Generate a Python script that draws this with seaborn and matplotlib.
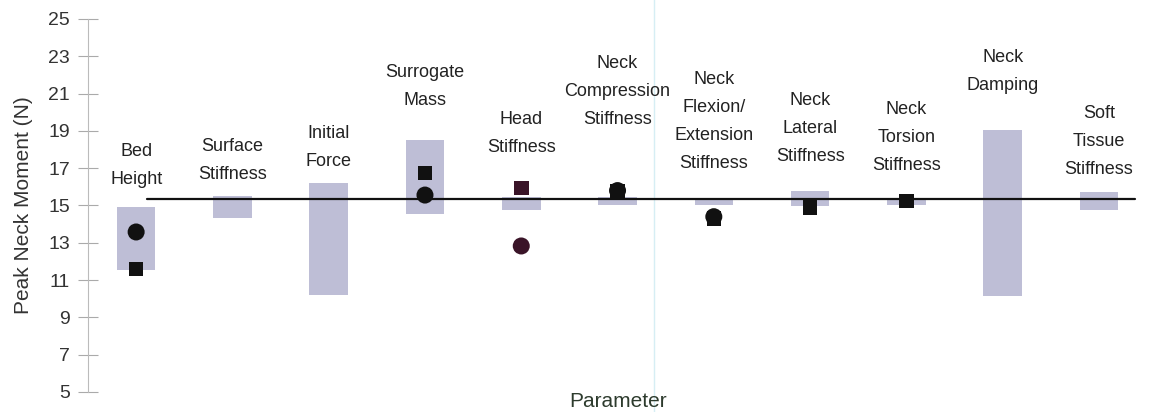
import matplotlib
matplotlib.use("Agg")
import matplotlib.pyplot as plt
import seaborn as sns
import numpy as np
import pandas as pd

# ---- data ----
parameters = ["Bed\nHeight", "Surface\nStiffness", "Initial\nForce", "Surrogate\nMass",
              "Head\nStiffness", "Neck\nCompression\nStiffness",
              "Neck\nFlexion/\nExtension\nStiffness", "Neck\nLateral\nStiffness",
              "Neck\nTorsion\nStiffness", "Neck\nDamping", "Soft\nTissue\nStiffness"]
range_low = [11.55, 14.35, 10.2, 14.55, 14.75, 15.03, 15.0, 14.97, 15.0, 10.15, 14.78]
range_high = [14.92, 15.5, 16.2, 18.5, 15.46, 15.46, 15.4, 15.78, 15.4, 19.05, 15.72]
label_top = [18.35, 18.62, 19.32, 22.59, 20.07, 23.07, 22.21, 21.09, 20.6, 23.39, 20.39]
circle_x = [0, 3, 4, 5, 6]
circle_y = [13.58, 15.56, 12.83, 15.8, 14.4]
square_x = [0, 3, 4, 5, 6, 7, 8]
square_y = [11.6, 16.74, 15.94, 15.78, 14.3, 14.9, 15.24]
baseline_value = 15.35
y_ticks = [5, 7, 9, 11, 13, 15, 17, 19, 21, 23, 25]

sns.set_theme(style="white")
plt.rcParams['font.family'] = ['Liberation Sans', 'DejaVu Sans']

fig = plt.figure(figsize=(11.49, 4.12), dpi=100)
ax = fig.add_axes([88 / 1149, 20 / 412, 1 - 88 / 1149, (392 - 19) / 412])

x = np.arange(len(parameters))
bar_color = "#bebed6"
ax.bar(x, np.array(range_high) - np.array(range_low), bottom=range_low,
       width=0.4, color=bar_color, edgecolor="none", zorder=1)

# faint scan line seen in the reference (spans the full figure height)
ax.axvline(5.38, ymin=-0.06, ymax=1.06, color="#d6eef4", lw=1.0, zorder=0, clip_on=False)

ax.plot([0.11, 10.37], [baseline_value, baseline_value], color="#111111", lw=1.6, zorder=2)

circ_df = pd.DataFrame({"x": circle_x, "y": circle_y})
sq_df = pd.DataFrame({"x": square_x, "y": square_y})
circ_colors = ["#3a1428" if xi == 4 else "#111111" for xi in circle_x]
sq_colors = ["#3a1428" if xi == 4 else "#111111" for xi in square_x]
ax.scatter(sq_df["x"], sq_df["y"], marker="s", s=110, c=sq_colors, zorder=3, linewidths=0)
sns.scatterplot(data=circ_df, x="x", y="y", marker="o", s=150, c=circ_colors,
                edgecolor="none", ax=ax, zorder=4, legend=False)

for xi, name, top in zip(x, parameters, label_top):
    ax.text(xi, top, name, ha="center", va="top", fontsize=13, color="#222222",
            linespacing=1.85)

ax.set_xlim(-0.5, 10.52)
ax.set_ylim(5, 25)
ax.set_yticks(y_ticks)
ax.set_xticks([])
ax.tick_params(axis="y", which="major", direction="inout", length=14, width=0.8,
               color="#aaaaaa", labelsize=14, labelcolor="#333333", pad=6, left=True)
for s in ["top", "right", "bottom"]:
    ax.spines[s].set_visible(False)
ax.spines["left"].set_color("#bbbbbb")
ax.spines["left"].set_linewidth(0.8)
ax.set_ylabel("Peak Neck Moment (N)", fontsize=15, color="#333333", labelpad=11)
ax.set_xlabel("Parameter", fontsize=15, color="#2d3b2d", labelpad=0)

fig.savefig("out.png", dpi=100)
